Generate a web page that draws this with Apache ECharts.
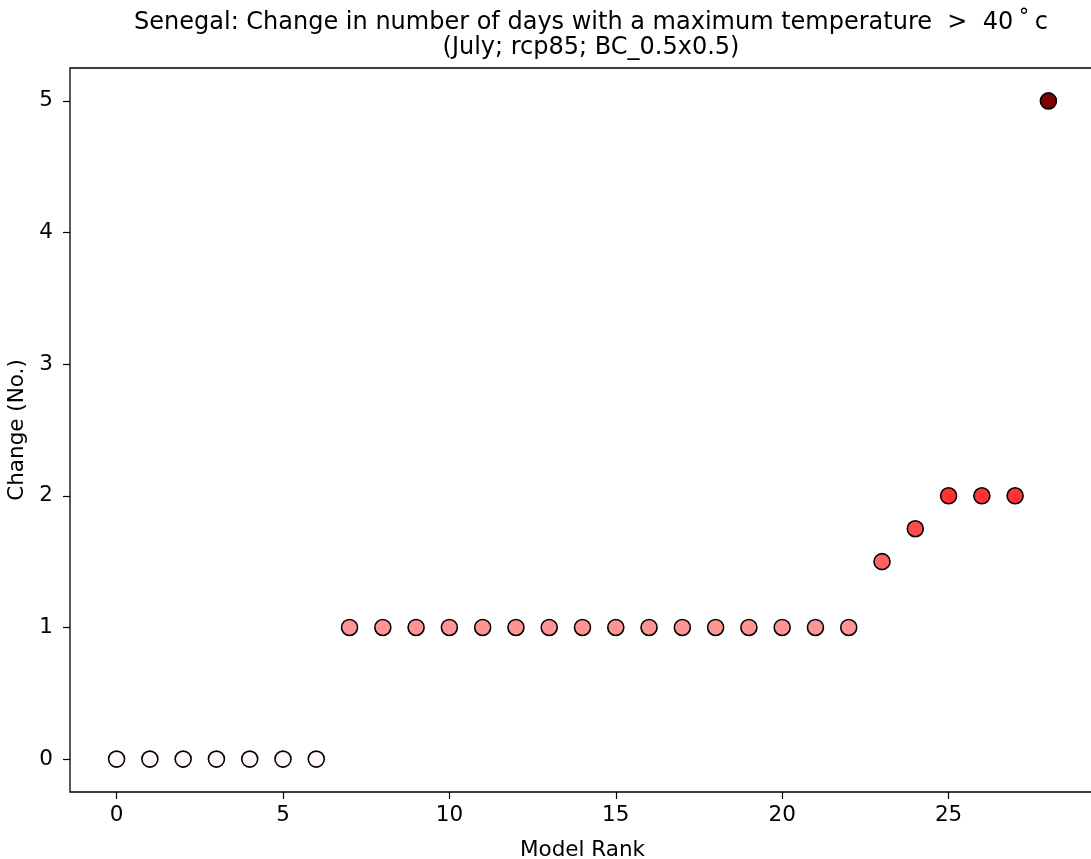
<!DOCTYPE html>
<html>
<head>
<meta charset="utf-8">
<script src="https://cdn.jsdelivr.net/npm/echarts@6/dist/echarts.min.js"></script>
<style>html,body{margin:0;padding:0;background:#fff;}#c{width:1091px;height:859px;}</style>
</head>
<body>
<div id="c"></div>
<script>
const ranks = [0,1,2,3,4,5,6,7,8,9,10,11,12,13,14,15,16,17,18,19,20,21,22,23,24,25,26,27,28];
const changes = [0,0,0,0,0,0,0,1,1,1,1,1,1,1,1,1,1,1,1,1,1,1,1,1.5,1.75,2,2,2,5];
const pointColors = ['#fff7f9','#fff7f9','#fff7f9','#fff7f9','#fff7f9','#fff7f9','#fff7f9',
  '#ff9494','#ff9494','#ff9494','#ff9494','#ff9494','#ff9494','#ff9494','#ff9494','#ff9494','#ff9494','#ff9494','#ff9494','#ff9494','#ff9494','#ff9494','#ff9494',
  '#ff6262','#ff4b4b','#ff3333','#ff3333','#ff3333','#800000'];
const xTicks = [0,5,10,15,20,25];
const yTicks = [0,1,2,3,4,5];
const titleLine1 = 'Senegal: Change in number of days with a maximum temperature  >  40\u2009\u02DA\u2009c';
const titleLine2 = '(July; rcp85; BC_0.5x0.5)';

const chart = echarts.init(document.getElementById('c'), null, {renderer:'canvas'});
const font = 'DejaVu Sans';
chart.setOption({
  animation:false,
  backgroundColor:'#fff',
  title:{
    text: titleLine1 + '\n' + titleLine2,
    left: 586, top: 6, textAlign:'center',
    textStyle:{fontFamily:font,fontSize:24,fontWeight:'normal',color:'#000',lineHeight:24.5}
  },
  grid:{left:70,top:68,width:1025,height:724,show:true,borderColor:'#000',borderWidth:1.3,backgroundColor:'transparent',outerBoundsMode:'none',containLabel:false},
  xAxis:{
    type:'value',min:-1.4,max:29.4,
    name:'Model Rank',nameLocation:'middle',nameGap:47,
    nameTextStyle:{fontFamily:font,fontSize:21.5,color:'#000'},
    axisLine:{show:false,onZero:false},
    splitLine:{show:false},
    axisTick:{show:true,inside:false,length:7,lineStyle:{color:'#000',width:1.2},customValues:xTicks},
    axisLabel:{fontFamily:font,fontSize:21.5,color:'#000',margin:12,customValues:xTicks}
  },
  yAxis:{
    type:'value',min:-0.25,max:5.25,
    name:'Change (No.)',nameLocation:'middle',nameGap:38,nameRotate:90,
    nameTextStyle:{fontFamily:font,fontSize:21.5,color:'#000'},
    axisLine:{show:false,onZero:false},
    splitLine:{show:false},
    axisTick:{show:true,inside:false,length:7,lineStyle:{color:'#000',width:1.2},customValues:yTicks},
    axisLabel:{fontFamily:font,fontSize:21.5,color:'#000',margin:17,customValues:yTicks}
  },
  series:[{
    type:'scatter',
    symbol:'circle',
    symbolSize:16,
    data: ranks.map((r,i)=>({value:[r,changes[i]],itemStyle:{color:pointColors[i]}})),
    itemStyle:{borderColor:'#000',borderWidth:1.6,opacity:1}
  }]
});
</script>
</body>
</html>
